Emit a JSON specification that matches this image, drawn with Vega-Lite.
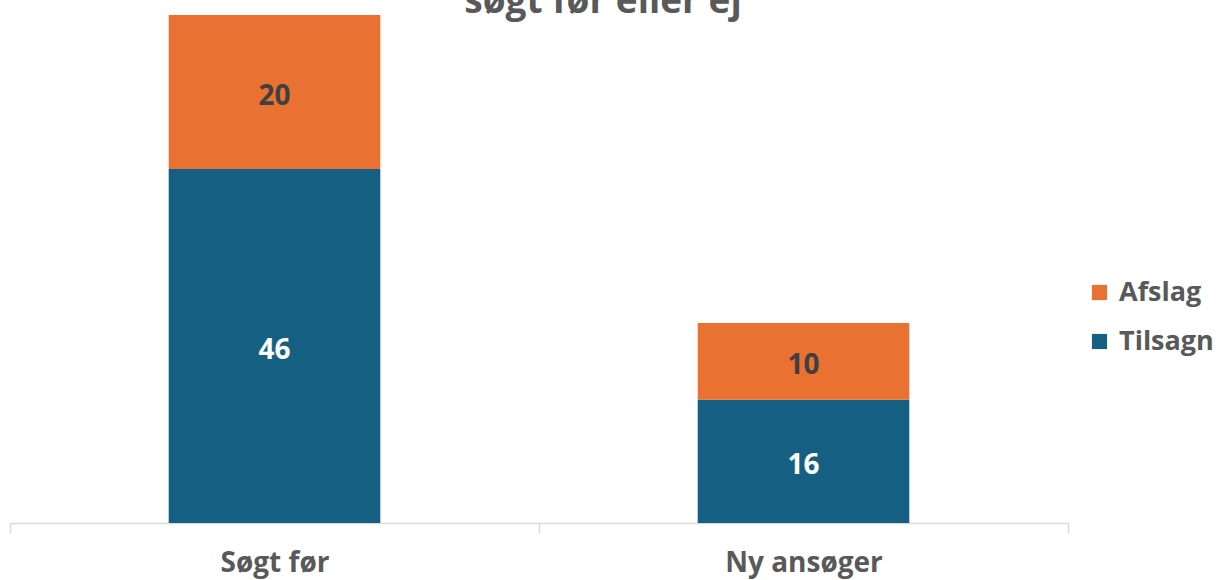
{
  "$schema": "https://vega.github.io/schema/vega-lite/v6.json",
  "width": 1058,
  "height": 508,
  "autosize": {"type": "none"},
  "padding": {"left": 10, "top": 15, "right": 159, "bottom": 57},
  "background": "white",
  "title": {
    "text": "søgt før eller ej",
    "fontSize": 37,
    "font": "Open Sans",
    "fontWeight": "bold",
    "color": "#595959",
    "anchor": "middle",
    "offset": -6,
    "dx": 64
  },
  "data": {
    "values": [
      {"kategori": "Søgt før", "type": "Tilsagn", "antal": 46},
      {"kategori": "Søgt før", "type": "Afslag", "antal": 20},
      {"kategori": "Ny ansøger", "type": "Tilsagn", "antal": 16},
      {"kategori": "Ny ansøger", "type": "Afslag", "antal": 10}
    ]
  },
  "config": {"view": {"stroke": null}},
  "layer": [
    {
      "mark": {"type": "bar", "width": {"band": 0.4}},
      "encoding": {
        "x": {
          "field": "kategori",
          "type": "nominal",
          "sort": ["Søgt før", "Ny ansøger"],
          "scale": {"paddingInner": 0, "paddingOuter": 0},
          "axis": {
            "title": null,
            "labelAngle": 0,
            "domainColor": "#d9d9d9",
            "domainWidth": 1.5,
            "tickColor": "#d9d9d9",
            "tickWidth": 1.5,
            "tickSize": 10,
            "tickBand": "extent",
            "labelFont": "Open Sans",
            "labelFontSize": 28,
            "labelFontWeight": "bold",
            "labelColor": "#595959",
            "labelPadding": 16
          }
        },
        "y": {
          "field": "antal",
          "type": "quantitative",
          "stack": "zero",
          "scale": {"domain": [0, 66], "nice": false},
          "axis": null
        },
        "color": {
          "field": "type",
          "type": "nominal",
          "scale": {"domain": ["Afslag", "Tilsagn"], "range": ["#E97132", "#156082"]},
          "legend": {
            "title": null,
            "orient": "none",
            "legendX": 1076,
            "legendY": 264,
            "symbolType": "square",
            "symbolSize": 230,
            "symbolStrokeWidth": 0,
            "labelFont": "Open Sans",
            "labelFontSize": 27,
            "labelFontWeight": "bold",
            "labelColor": "#595959",
            "rowPadding": 21,
            "labelOffset": 6
          }
        },
        "order": {"field": "type", "sort": "descending"}
      }
    },
    {
      "transform": [
        {"stack": "antal", "groupby": ["kategori"], "as": ["v0", "v1"], "sort": [{"field": "type", "order": "descending"}]}
      ],
      "mark": {
        "type": "text",
        "font": "Open Sans",
        "fontSize": 28,
        "fontWeight": "bold",
        "baseline": "middle",
        "dy": {"expr": "(scale('y', datum.v1) - scale('y', datum.v0)) / 2 + 5"}
      },
      "encoding": {
        "x": {"field": "kategori", "type": "nominal", "sort": ["Søgt før", "Ny ansøger"]},
        "y": {"field": "v0", "type": "quantitative"},
        "text": {"field": "antal", "type": "quantitative"},
        "fill": {
          "condition": {"test": "datum.type === 'Tilsagn'", "value": "white"},
          "value": "#404040"
        }
      }
    }
  ]
}
